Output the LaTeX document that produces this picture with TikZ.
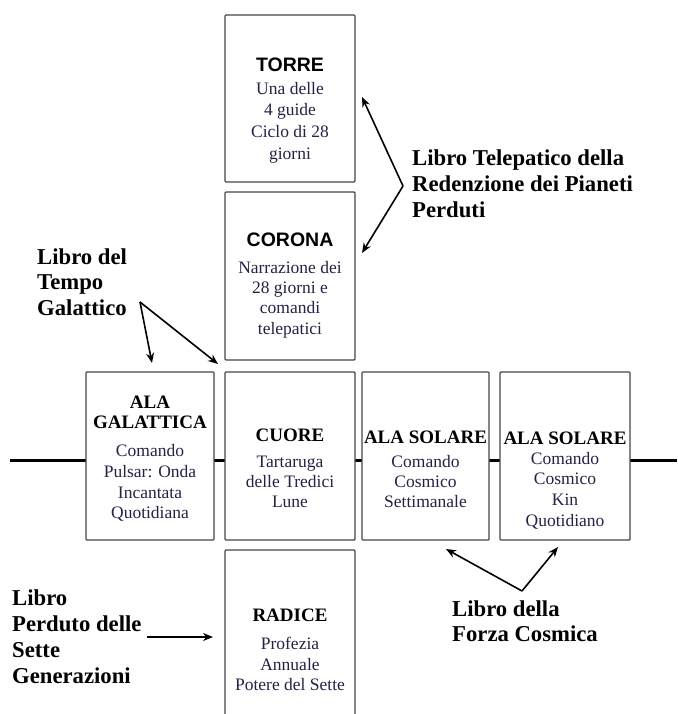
\documentclass[tikz,border=0pt]{standalone}
\usepackage{fontspec}
\setmainfont{Liberation Serif}
\newfontfamily\sansf{Liberation Sans}
\usetikzlibrary{arrows.meta}
\definecolor{bodyc}{RGB}{35,35,70}
\definecolor{boxc}{RGB}{70,70,70}
\begin{document}
\begin{tikzpicture}[x=1pt,y=-1pt,
  box/.style={draw=boxc,line width=1.4pt,rounded corners=1pt,fill=white,inner sep=0pt},
  ttl/.style={font=\bfseries\fontsize{19}{20}\selectfont,align=center,inner sep=0pt},
  sttl/.style={font=\sansf\bfseries\fontsize{19.5}{22}\selectfont,align=center,inner sep=0pt},
  body/.style={font=\fontsize{17.5}{#1}\selectfont,text=bodyc,align=center,inner sep=0pt},
  body/.default=20.5,
  lbl/.style={font=\bfseries\fontsize{22.7}{#1}\selectfont,align=left,inner sep=0pt,anchor=west},
  lbl/.default=25.5,
  arr/.style={-{Stealth[length=10pt,width=8pt]},line width=1.6pt}]
\useasboundingbox (0,0) rectangle (677,714);
% horizontal line
\coordinate (L0) at (10,460);
\coordinate (L1) at (677,460);
\draw[line width=3pt] (L0) -- (L1);
% boxes
\node[box, minimum width=130pt, minimum height=167pt] (torre) at (290,98.5) {};
\node[box, minimum width=130pt, minimum height=168pt] (corona) at (290,276) {};
\node[box, minimum width=128pt, minimum height=168pt] (galattica) at (150,456) {};
\node[box, minimum width=130pt, minimum height=168pt] (cuore) at (290,456) {};
\node[box, minimum width=127pt, minimum height=168pt] (solare1) at (425.5,456) {};
\node[box, minimum width=130pt, minimum height=168pt] (solare2) at (565,456) {};
\node[box, minimum width=130pt, minimum height=180pt] (radice) at (290,640) {};
% box texts
\node[sttl] (t1) at (290,65) {TORRE};
\node[body=21.7] (b1) at (290,122.5) {Una delle\\4 guide\\Ciclo di 28\\giorni};
\node[sttl] (t2) at (290,240) {CORONA};
\node[body=20.3] (b2) at (290,299.5) {Narrazione dei\\28 giorni e\\comandi\\telepatici};
\node[ttl] (t3) at (150,412) {ALA\\GALATTICA};
\node[body=20.7] (b3) at (150,483) {Comando\\Pulsar: Onda\\Incantata\\Quotidiana};
\node[ttl] (t4) at (290,435) {CUORE};
\node[body=20] (b4) at (290,481.5) {Tartaruga\\delle Tredici\\Lune};
\node[ttl] (t5) at (425.5,437) {ALA SOLARE};
\node[body=20] (b5) at (425.5,481.5) {Comando\\Cosmico\\Settimanale};
\node[ttl] (t6) at (565,438) {ALA SOLARE};
\node[body=20.7] (b6) at (565,490.5) {Comando\\Cosmico\\Kin\\Quotidiano};
\node[ttl] (t7) at (290,615) {RADICE};
\node[body=20.8] (b7) at (290,664) {Profezia\\Annuale\\Potere del Sette};
% labels
\node[lbl=26] (lt) at (412,184) {Libro Telepatico della\\Redenzione dei Pianeti\\Perduti};
\node[lbl=25.5] (lg) at (37,282) {Libro del\\Tempo\\Galattico};
\node[lbl=25] (lc) at (452,621) {Libro della\\Forza Cosmica};
\node[lbl=26] (ls) at (12,637) {Libro\\Perduto delle\\Sette\\Generazioni};
% arrows
\coordinate (at) at (403,186);
\coordinate (at1) at (362,97);
\coordinate (at2) at (362,253);
\draw[arr] (at) -- (at1);
\draw[arr] (at) -- (at2);
\coordinate (ag) at (140,302);
\coordinate (ag1) at (152,363);
\coordinate (ag2) at (218,364);
\draw[arr] (ag) -- (ag1);
\draw[arr] (ag) -- (ag2);
\coordinate (ac) at (522,591);
\coordinate (ac1) at (446,549);
\coordinate (ac2) at (558,547);
\draw[arr] (ac) -- (ac1);
\draw[arr] (ac) -- (ac2);
\coordinate (as) at (147,637);
\coordinate (as1) at (213,637);
\draw[arr] (as) -- (as1);
\end{tikzpicture}
\end{document}
